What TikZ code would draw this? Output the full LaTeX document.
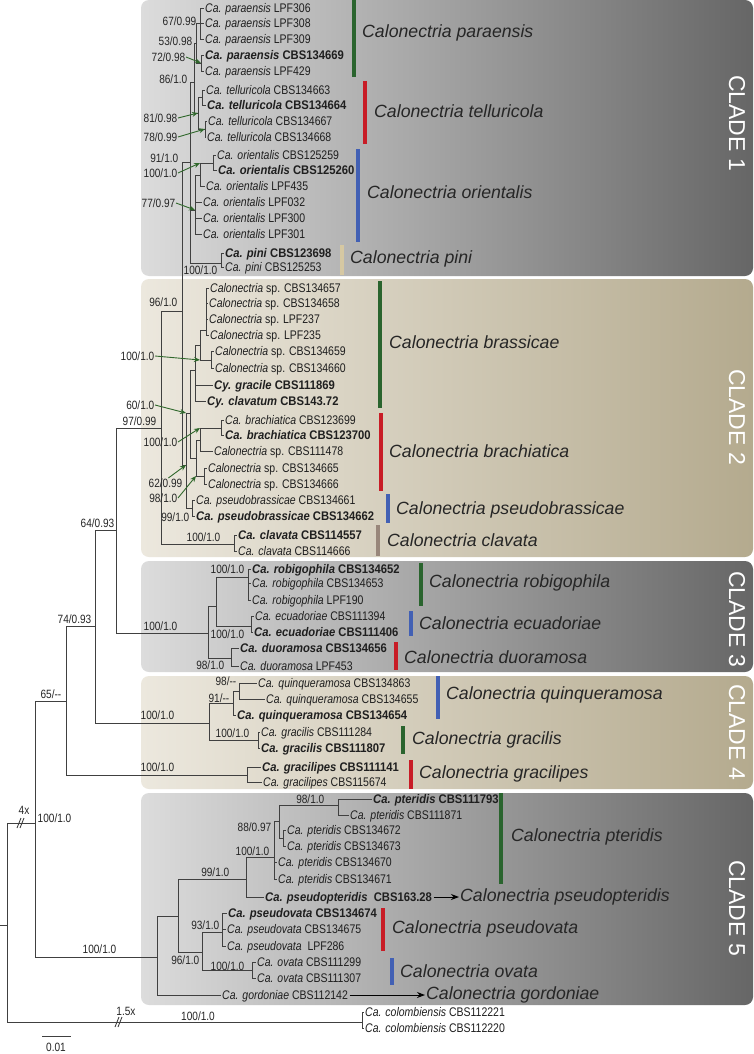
\documentclass[tikz,border=0pt]{standalone}
\usepackage{fontspec}
\setmainfont{Liberation Sans}
\newfontfamily\narrowsans{Liberation Sans}[UprightFeatures={FakeStretch=0.84}, ItalicFeatures={FakeStretch=0.84}, BoldFeatures={FakeStretch=0.9}, BoldItalicFeatures={FakeStretch=0.9}]
\usetikzlibrary{arrows.meta, calc}

\definecolor{cladeGrayL}{RGB}{220,220,220}
\definecolor{cladeGrayR}{RGB}{102,102,102}
\definecolor{cladeTanL}{RGB}{236,232,222}
\definecolor{cladeTanR}{RGB}{180,170,142}
\definecolor{barGreen}{RGB}{42,100,46}
\definecolor{barRed}{RGB}{200,28,38}
\definecolor{barBlue}{RGB}{66,96,180}
\definecolor{barTan}{RGB}{214,200,162}
\definecolor{barBrown}{RGB}{152,134,122}
\definecolor{ptrGreen}{RGB}{48,104,44}

\begin{document}
\begin{tikzpicture}[x=1pt, y=-1pt,
    taxon/.style={anchor=west, inner sep=1.5pt, text height=9pt, text depth=0pt, text=black!88, font=\narrowsans\fontsize{12.5}{14}\selectfont},
    supp/.style={anchor=east, inner sep=0.5pt, text height=8.6pt, text depth=0pt, text=black!85, font=\narrowsans\fontsize{12}{13}\selectfont},
    branch/.style={draw=black!75, line width=0.85pt},
    ptr/.style={-{Stealth[length=6pt, width=5pt]}, draw=ptrGreen, line width=0.9pt},
    namearrow/.style={-{Stealth[length=8pt, width=6pt]}, line width=1pt},
    bar/.style={line width=3.2pt},
    spname/.style={anchor=west, inner sep=1pt, text=black!85, font=\fontsize{17.7}{19}\selectfont\itshape},
    cladelbl/.style={rotate=-90, text=white, font=\fontsize{23}{25}\selectfont},
    cladebox/.style={rounded corners=8pt}
]
    \useasboundingbox (0,0) rectangle (754,1054);
    \fill[white] (0,0) rectangle (754,1054);

    % clade boxes
    \shade[cladebox, left color=cladeGrayL, right color=cladeGrayR] (141,0) rectangle (753,276);
    \shade[cladebox, left color=cladeTanL, right color=cladeTanR] (141,279) rectangle (753,557);
    \shade[cladebox, left color=cladeGrayL, right color=cladeGrayR] (141,561) rectangle (753,672);
    \shade[cladebox, left color=cladeTanL, right color=cladeTanR] (141,676) rectangle (753,789);
    \shade[cladebox, left color=cladeGrayL, right color=cladeGrayR] (141,793) rectangle (753,1005);

    \node[cladelbl] (clade1) at (737,123) {CLADE 1};
    \node[cladelbl] (clade2) at (737,417) {CLADE 2};
    \node[cladelbl] (clade3) at (737,619) {CLADE 3};
    \node[cladelbl] (clade4) at (737,732) {CLADE 4};
    \node[cladelbl] (clade5) at (737,908) {CLADE 5};

    % internal nodes
    \coordinate (rootstem) at (0,925);
    \coordinate (root) at (7,925);
    \coordinate (ingrp) at (35,823);
    \coordinate (outgrp) at (362,1022);
    \coordinate (n65) at (66,701);
    \coordinate (cl5) at (157,957);
    \coordinate (n74) at (95,626);
    \coordinate (gpes) at (247,775);
    \coordinate (n64) at (116,530);
    \coordinate (cl4) at (209,723);
    \coordinate (n97) at (161,428);
    \coordinate (cl3) at (208,633);
    \coordinate (n96) at (182,311);
    \coordinate (clav) at (234,544);
    \coordinate (cl1) at (190,162);
    \coordinate (n62) at (186,465);
    \coordinate (npt) at (194,82);
    \coordinate (nori) at (195,210);
    \coordinate (pini) at (221,263);
    \coordinate (npar) at (196,43);
    \coordinate (ntel) at (198,113);
    \coordinate (npar1) at (200,23);
    \coordinate (npar2) at (201,63);
    \coordinate (ntel1) at (202,97);
    \coordinate (ntel2) at (205,129);
    \coordinate (nori2) at (200,175);
    \coordinate (nori1) at (213,163);
    \coordinate (n60) at (190,413);
    \coordinate (npbr) at (192,508);
    \coordinate (nbra) at (195,370);
    \coordinate (nbch) at (196,458);
    \coordinate (nbra2) at (200,345);
    \coordinate (nsp1) at (206,330);
    \coordinate (nsp2) at (211,360);
    \coordinate (nbch1) at (200,440);
    \coordinate (nbch2) at (221,428);
    \coordinate (nsp3) at (204,476);
    \coordinate (nre) at (216,606);
    \coordinate (nduo) at (231,658);
    \coordinate (nrob) at (248,577);
    \coordinate (necu) at (251,626);
    \coordinate (nqui1) at (233,703);
    \coordinate (nqui2) at (239,691);
    \coordinate (ngra) at (258,740);
    \coordinate (n96b) at (178,916);
    \coordinate (n99) at (246,879);
    \coordinate (novt) at (202,952);
    \coordinate (npte) at (274,857);
    \coordinate (n88) at (279,821);
    \coordinate (npte1) at (338,805);
    \coordinate (npte2) at (283,838);
    \coordinate (npsv) at (222,932);
    \coordinate (nova) at (252,970);

    % clade 1 taxa
    \node[taxon] (par306) at (203.5,8) {\textit{Ca. paraensis} LPF306};
    \node[taxon] (par308) at (203.5,23) {\textit{Ca. paraensis} LPF308};
    \node[taxon] (par309) at (203.5,39) {\textit{Ca. paraensis} LPF309};
    \node[taxon] (par669) at (203.5,55) {\textbf{\textit{Ca. paraensis} CBS134669}};
    \node[taxon] (par429) at (203.5,71) {\textit{Ca. paraensis} LPF429};
    \node[taxon] (tel663) at (204.5,90) {\textit{Ca. telluricola} CBS134663};
    \node[taxon] (tel664) at (205.5,105) {\textbf{\textit{Ca. telluricola} CBS134664}};
    \node[taxon] (tel667) at (206.5,121) {\textit{Ca. telluricola} CBS134667};
    \node[taxon] (tel668) at (205.5,137) {\textit{Ca. telluricola} CBS134668};
    \node[taxon] (ori259) at (215.5,155) {\textit{Ca. orientalis} CBS125259};
    \node[taxon] (ori260) at (216.5,170) {\textbf{\textit{Ca. orientalis} CBS125260}};
    \node[taxon] (ori435) at (204.5,186) {\textit{Ca. orientalis} LPF435};
    \node[taxon] (ori032) at (201.5,202) {\textit{Ca. orientalis} LPF032};
    \node[taxon] (ori300) at (201.5,218) {\textit{Ca. orientalis} LPF300};
    \node[taxon] (ori301) at (201.5,234) {\textit{Ca. orientalis} LPF301};
    \node[taxon] (pin698) at (223.5,253) {\textbf{\textit{Ca. pini} CBS123698}};
    \node[taxon] (pin253) at (223.5,267) {\textit{Ca. pini} CBS125253};

    % clade 2 taxa
    \node[taxon] (sp657) at (208.5,288) {\textit{Calonectria} sp. CBS134657};
    \node[taxon] (sp658) at (207.5,303) {\textit{Calonectria} sp. CBS134658};
    \node[taxon] (sp237) at (207.5,319) {\textit{Calonectria} sp. LPF237};
    \node[taxon] (sp235) at (208.5,335) {\textit{Calonectria} sp. LPF235};
    \node[taxon] (sp659) at (213.5,351) {\textit{Calonectria} sp. CBS134659};
    \node[taxon] (sp660) at (213.5,368) {\textit{Calonectria} sp. CBS134660};
    \node[taxon] (cygra) at (212.5,385) {\textbf{\textit{Cy. gracile} CBS111869}};
    \node[taxon] (cycla) at (205.5,401) {\textbf{\textit{Cy. clavatum} CBS143.72}};
    \node[taxon] (bra699) at (223.5,420) {\textit{Ca. brachiatica} CBS123699};
    \node[taxon] (bra700) at (223.5,435) {\textbf{\textit{Ca. brachiatica} CBS123700}};
    \node[taxon] (sp478) at (212.5,451) {\textit{Calonectria} sp. CBS111478};
    \node[taxon] (sp665) at (206.5,468) {\textit{Calonectria} sp. CBS134665};
    \node[taxon] (sp666) at (206.5,484) {\textit{Calonectria} sp. CBS134666};
    \node[taxon] (pbr661) at (194.5,500) {\textit{Ca. pseudobrassicae} CBS134661};
    \node[taxon] (pbr662) at (194.5,516) {\textbf{\textit{Ca. pseudobrassicae} CBS134662}};
    \node[taxon] (cla557) at (236.5,535) {\textbf{\textit{Ca. clavata} CBS114557}};
    \node[taxon] (cla666) at (236.5,551) {\textit{Ca. clavata} CBS114666};

    % clade 3 taxa
    \node[taxon] (rob652) at (250.5,569) {\textbf{\textit{Ca. robigophila} CBS134652}};
    \node[taxon] (rob653) at (250.5,583) {\textit{Ca. robigophila} CBS134653};
    \node[taxon] (rob190) at (250.5,600) {\textit{Ca. robigophila} LPF190};
    \node[taxon] (ecu394) at (253.5,616) {\textit{Ca. ecuadoriae} CBS111394};
    \node[taxon] (ecu406) at (252.5,632) {\textbf{\textit{Ca. ecuadoriae} CBS111406}};
    \node[taxon] (duo656) at (238.5,648) {\textbf{\textit{Ca. duoramosa} CBS134656}};
    \node[taxon] (duo453) at (238.5,666) {\textit{Ca. duoramosa} LPF453};

    % clade 4 taxa
    \node[taxon] (qui863) at (256.5,683) {\textit{Ca. quinqueramosa} CBS134863};
    \node[taxon] (qui655) at (264.5,699) {\textit{Ca. quinqueramosa} CBS134655};
    \node[taxon] (qui654) at (235.5,715) {\textbf{\textit{Ca. quinqueramosa} CBS134654}};
    \node[taxon] (gra284) at (259.5,732) {\textit{Ca. gracilis} CBS111284};
    \node[taxon] (gra807) at (259.5,748) {\textbf{\textit{Ca. gracilis} CBS111807}};
    \node[taxon] (gpe141) at (260.5,767) {\textbf{\textit{Ca. gracilipes} CBS111141}};
    \node[taxon] (gpe674) at (261.5,782) {\textit{Ca. gracilipes} CBS115674};

    % clade 5 taxa
    \node[taxon] (pte793) at (371.5,799) {\textbf{\textit{Ca. pteridis} CBS111793}};
    \node[taxon] (pte871) at (348.5,815) {\textit{Ca. pteridis} CBS111871};
    \node[taxon] (pte672) at (285.5,830) {\textit{Ca. pteridis} CBS134672};
    \node[taxon] (pte673) at (285.5,846) {\textit{Ca. pteridis} CBS134673};
    \node[taxon] (pte670) at (276.5,862) {\textit{Ca. pteridis} CBS134670};
    \node[taxon] (pte671) at (276.5,879) {\textit{Ca. pteridis} CBS134671};
    \node[taxon] (pspt) at (263.5,897) {\textbf{\textit{Ca. pseudopteridis}\ \ CBS163.28}};
    \node[taxon] (psv674) at (226.5,913) {\textbf{\textit{Ca. pseudovata} CBS134674}};
    \node[taxon] (psv675) at (225.5,929) {\textit{Ca. pseudovata} CBS134675};
    \node[taxon] (psv286) at (225.5,946) {\textit{Ca. pseudovata}\ \ LPF286};
    \node[taxon] (ova299) at (255.5,962) {\textit{Ca. ovata} CBS111299};
    \node[taxon] (ova307) at (255.5,978) {\textit{Ca. ovata} CBS111307};
    \node[taxon] (gor142) at (220.5,995) {\textit{Ca. gordoniae} CBS112142};
    \node[taxon] (col221) at (363.5,1012) {\textit{Ca. colombiensis} CBS112221};
    \node[taxon] (col220) at (363.5,1028) {\textit{Ca. colombiensis} CBS112220};

    % backbone
    \draw[branch] (rootstem) -- (root);
    \draw[branch] (root) |- (ingrp) (root) |- (outgrp);
    \draw[branch] (ingrp) |- (n65) (ingrp) |- (cl5);
    \draw[branch] (n65) |- (n74) (n65) |- (gpes);
    \draw[branch] (n74) |- (n64) (n74) |- (cl4);
    \draw[branch] (n64) |- (n97) (n64) |- (cl3);
    \draw[branch] (n97) |- (n96) (n97) |- (clav);
    \draw[branch] (n96) |- (cl1) (n96) |- (n62);

    % clade 1
    \draw[branch] (cl1) |- (npt) (cl1) |- (nori) (cl1) |- (pini);
    \draw[branch] (npt) |- (npar) (npt) |- (ntel);
    \draw[branch] (npar) |- (npar1) (npar) |- (npar2);
    \draw[branch] (npar1) |- (par306.west) (npar1) |- (par308.west) (npar1) |- (par309.west);
    \draw[branch] (npar2) |- (par669.west) (npar2) |- (par429.west);
    \draw[branch] (ntel) |- (ntel1) (ntel) |- (ntel2);
    \draw[branch] (ntel1) |- (tel663.west) (ntel1) |- (tel664.west);
    \draw[branch] (ntel2) |- (tel667.west) (ntel2) |- (tel668.west);
    \draw[branch] (nori) |- (nori2) (nori) |- (ori032.west) (nori) |- (ori300.west) (nori) |- (ori301.west);
    \draw[branch] (nori2) |- (nori1) (nori2) |- (ori435.west);
    \draw[branch] (nori1) |- (ori259.west) (nori1) |- (ori260.west);
    \draw[branch] (pini) |- (pin698.west) (pini) |- (pin253.west);

    % clade 2
    \draw[branch] (n62) |- (n60) (n62) |- (npbr);
    \draw[branch] (n60) |- (nbra) (n60) |- (nbch);
    \draw[branch] (nbra) |- (nbra2) (nbra) |- (cygra.west) (nbra) |- (cycla.west);
    \draw[branch] (nbra2) |- (nsp1) (nbra2) |- (nsp2);
    \draw[branch] (nsp1) |- (sp657.west) (nsp1) |- (sp658.west) (nsp1) |- (sp237.west) (nsp1) |- (sp235.west);
    \draw[branch] (nsp2) |- (sp659.west) (nsp2) |- (sp660.west);
    \draw[branch] (nbch) |- (nbch1) (nbch) |- (nsp3);
    \draw[branch] (nbch1) |- (nbch2) (nbch1) |- (sp478.west);
    \draw[branch] (nbch2) |- (bra699.west) (nbch2) |- (bra700.west);
    \draw[branch] (nsp3) |- (sp665.west) (nsp3) |- (sp666.west);
    \draw[branch] (npbr) |- (pbr661.west) (npbr) |- (pbr662.west);
    \draw[branch] (clav) |- (cla557.west) (clav) |- (cla666.west);

    % clade 3
    \draw[branch] (cl3) |- (nre) (cl3) |- (nduo);
    \draw[branch] (nre) |- (nrob) (nre) |- (necu);
    \draw[branch] (nrob) |- (rob652.west) (nrob) |- (rob653.west) (nrob) |- (rob190.west);
    \draw[branch] (necu) |- (ecu394.west) (necu) |- (ecu406.west);
    \draw[branch] (nduo) |- (duo656.west) (nduo) |- (duo453.west);

    % clade 4
    \draw[branch] (cl4) |- (nqui1) (cl4) |- (ngra);
    \draw[branch] (nqui1) |- (nqui2) (nqui1) |- (qui654.west);
    \draw[branch] (nqui2) |- (qui863.west) (nqui2) |- (qui655.west);
    \draw[branch] (ngra) |- (gra284.west) (ngra) |- (gra807.west);
    \draw[branch] (gpes) |- (gpe141.west) (gpes) |- (gpe674.west);

    % clade 5
    \draw[branch] (cl5) |- (n96b) (cl5) |- (gor142.west);
    \draw[branch] (n96b) |- (n99) (n96b) |- (novt);
    \draw[branch] (n99) |- (npte) (n99) |- (pspt.west);
    \draw[branch] (npte) |- (n88) (npte) |- (pte670.west) (npte) |- (pte671.west);
    \draw[branch] (n88) |- (npte1) (n88) |- (npte2);
    \draw[branch] (npte1) |- (pte793.west) (npte1) |- (pte871.west);
    \draw[branch] (npte2) |- (pte672.west) (npte2) |- (pte673.west);
    \draw[branch] (novt) |- (npsv) (novt) |- (nova);
    \draw[branch] (npsv) |- (psv674.west) (npsv) |- (psv675.west) (npsv) |- (psv286.west);
    \draw[branch] (nova) |- (ova299.west) (nova) |- (ova307.west);
    \draw[branch] (outgrp) |- (col221.west) (outgrp) |- (col220.west);

    % long-branch breaks
    \draw[branch] (17,828) -- (21,818) (20,828) -- (24,818);
    \draw[branch] (115,1027) -- (119,1017) (118,1027) -- (122,1017);
    \node[supp, anchor=center] (brk4x) at (24,810) {4x};
    \node[supp, anchor=center] (brk15x) at (126,1011) {1.5x};

    % support values
    \node[supp] (s67) at (197,21) {67/0.99};
    \node[supp] (s53) at (193,41) {53/0.98};
    \node[supp] (s72) at (186,57) {72/0.98};
    \node[supp] (s86) at (188,79) {86/1.0};
    \node[supp] (s81) at (178,118) {81/0.98};
    \node[supp] (s78) at (178,137) {78/0.99};
    \node[supp] (s91) at (179,158) {91/1.0};
    \node[supp] (s100ori) at (178,173) {100/1.0};
    \node[supp] (s77) at (176,203) {77/0.97};
    \node[supp] (s100pin) at (218,270) {100/1.0};
    \node[supp] (s96) at (178,302) {96/1.0};
    \node[supp] (s100sp) at (155,356) {100/1.0};
    \node[supp] (s60) at (155,405) {60/1.0};
    \node[supp] (s97) at (157,421) {97/0.99};
    \node[supp] (s100bra) at (178,442) {100/1.0};
    \node[supp] (s62) at (183,483) {62/0.99};
    \node[supp] (s98sp) at (178,498) {98/1.0};
    \node[supp] (s99pbr) at (190,517) {99/1.0};
    \node[supp] (s100cla) at (221,537) {100/1.0};
    \node[supp] (s64) at (115,523) {64/0.93};
    \node[supp] (s74) at (92,619) {74/0.93};
    \node[supp] (s65) at (62,694) {65/--};
    \node[supp] (s100c3) at (178,626) {100/1.0};
    \node[supp] (s100rob) at (245,569) {100/1.0};
    \node[supp] (s100ecu) at (245,634) {100/1.0};
    \node[supp] (s98duo) at (225,665) {98/1.0};
    \node[supp] (s100c4) at (175,715) {100/1.0};
    \node[supp] (s98qui) at (237,681) {98/--};
    \node[supp] (s91qui) at (230,698) {91/--};
    \node[supp] (s100gra) at (250,733) {100/1.0};
    \node[supp] (s100gpe) at (175,767) {100/1.0};
    \node[supp, anchor=west] (s100in) at (37,818) {100/1.0};
    \node[supp] (s100c5) at (117,949) {100/1.0};
    \node[supp] (s98pte) at (325,799) {98/1.0};
    \node[supp] (s88) at (272,827) {88/0.97};
    \node[supp] (s100pte) at (270,851) {100/1.0};
    \node[supp] (s99) at (230,872) {99/1.0};
    \node[supp] (s93) at (220,925) {93/1.0};
    \node[supp] (s96ov) at (200,960) {96/1.0};
    \node[supp] (s100ova) at (245,966) {100/1.0};
    \node[supp, anchor=center] (s100out) at (198,1016) {100/1.0};

    % pointers to short branches
    \draw[ptr] (s72.east) -- (npar2);
    \draw[ptr] (s81.east) -- (ntel);
    \draw[ptr] (s78.east) -- (ntel2);
    \draw[ptr] (s100ori.east) -- (nori2 |- nori1);
    \draw[ptr] (s77.east) -- (nori);
    \draw[ptr] (s100sp.east) -- (nbra2 |- nsp2);
    \draw[ptr] (s60.east) -- (n62 |- n60);
    \draw[ptr] (s100bra.east) -- (nbch1 |- nbch2);
    \draw[ptr] (s62.60) -- (n62);
    \draw[ptr] (s98sp.east) -- (nbch |- nsp3);

    % species bars and names
    \draw[bar, barGreen] (354,0) -- (354,77);
    \node[spname] (nmpar) at (361,33) {Calonectria paraensis};
    \draw[bar, barRed] (365,81) -- (365,144);
    \node[spname] (nmtel) at (373,111) {Calonectria telluricola};
    \draw[bar, barBlue] (358,149) -- (358,242);
    \node[spname] (nmori) at (366,192) {Calonectria orientalis};
    \draw[bar, barTan] (342,245) -- (342,275);
    \node[spname] (nmpin) at (349,259) {Calonectria pini};
    \draw[bar, barGreen] (380,281) -- (380,408);
    \node[spname] (nmbras) at (388,342) {Calonectria brassicae};
    \draw[bar, barRed] (381,413) -- (381,491);
    \node[spname] (nmbra) at (388,451) {Calonectria brachiatica};
    \draw[bar, barBlue] (388,494) -- (388,523);
    \node[spname] (nmpbr) at (395,510) {Calonectria pseudobrassicae};
    \draw[bar, barBrown] (378,525) -- (378,556);
    \node[spname] (nmcla) at (386,540) {Calonectria clavata};
    \draw[bar, barGreen] (421,563) -- (421,606);
    \node[spname] (nmrob) at (428,583) {Calonectria robigophila};
    \draw[bar, barBlue] (411,611) -- (411,636);
    \node[spname] (nmecu) at (418,623) {Calonectria ecuadoriae};
    \draw[bar, barRed] (396,642) -- (396,670);
    \node[spname] (nmduo) at (403,657) {Calonectria duoramosa};
    \draw[bar, barBlue] (438,676) -- (438,719);
    \node[spname] (nmqui) at (445,695) {Calonectria quinqueramosa};
    \draw[bar, barGreen] (403,726) -- (403,754);
    \node[spname] (nmgra) at (411,740) {Calonectria gracilis};
    \draw[bar, barRed] (411,760) -- (411,789);
    \node[spname] (nmgpe) at (418,774) {Calonectria gracilipes};
    \draw[bar, barGreen] (501,793) -- (501,884);
    \node[spname] (nmpte) at (510,837) {Calonectria pteridis};
    \node[spname] (nmpspt) at (459,897) {Calonectria pseudopteridis};
    \draw[bar, barRed] (383,908) -- (383,951);
    \node[spname] (nmpsv) at (391,929) {Calonectria pseudovata};
    \draw[bar, barBlue] (392,958) -- (392,985);
    \node[spname] (nmova) at (399,971) {Calonectria ovata};
    \node[spname] (nmgor) at (425,995) {Calonectria gordoniae};

    \draw[namearrow] (pspt.east) -- (nmpspt.west);
    \draw[namearrow] (gor142.east) -- (nmgor.west);

    % scale bar
    \coordinate (sbl) at (42,1036);
    \coordinate (sbr) at (71,1036);
    \draw[branch] (sbl) -- (sbr);
    \node[supp, anchor=center] (sblbl) at (56,1047) {0.01};
\end{tikzpicture}
\end{document}
